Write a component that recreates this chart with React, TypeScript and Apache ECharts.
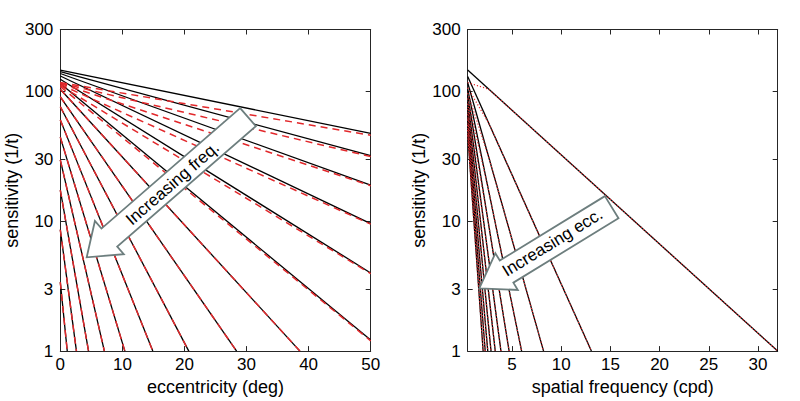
import React, { useEffect, useRef } from 'react';
import * as echarts from 'echarts';

// ---- tick labels ----
const sensTicks = [1, 3, 10, 30, 100, 300];
const eccTicks = [0, 10, 20, 30, 40, 50];
const freqTicks = [5, 10, 15, 20, 25, 30];

// ---- left panel: one line per spatial frequency (cpd) ----
const lineFreqs = [0.5, 0.66, 0.87, 1.15, 1.52, 2.0, 2.64, 3.48, 4.59, 6.06, 8.0, 10.56, 13.93, 18.38, 24.25];
// black (solid): sensitivity at 0 deg, and the point where the line leaves the plot
const blackStartSens = [146, 142, 137.5, 131.5, 124, 115, 104, 91, 76.3, 60.4, 44.5, 29.7, 17.4, 8.6, 3.4];
const blackEndEcc = [50, 50, 50, 50, 50, 50, 38.6, 28.4, 20.7, 14.9, 10.4, 7.1, 4.55, 2.6, 1.12];
const blackEndSens = [47.5, 32, 19, 9.6, 4.0, 1.22, 1, 1, 1, 1, 1, 1, 1, 1, 1];
// red (dashed)
const redStartSens = [117, 116, 115, 113, 111, 109, 104, 91, 76.3, 60.4, 44.5, 29.7, 17.4, 8.6, 3.4];
const redEndEcc = [50, 50, 50, 50, 50, 50, 38.6, 28.4, 20.7, 14.9, 10.4, 7.1, 4.55, 2.6, 1.12];
const redEndSens = [46, 31.5, 18.8, 9.5, 3.95, 1.2, 1, 1, 1, 1, 1, 1, 1, 1, 1];

// ---- right panel: one line per eccentricity (deg) ----
const lineEccs = [0, 5, 10, 15, 20, 25, 30, 35, 40, 45, 50];
const firstFreq = 0.5;
const blackStartSensF = [146, 130.5, 116.7, 104.3, 93.2, 83.3, 74.4, 66.5, 59.5, 53.1, 47.5];
const blackEndFreq = [32, 13.07, 8.21, 5.98, 4.71, 3.88, 3.3, 2.87, 2.54, 2.28, 2.07];
// red (dotted): start, knee near 2.64 cpd, end
const redStartSensF = [117, 106.6, 97.1, 88.4, 80.5, 73.4, 66.8, 60.9, 55.4, 50.5, 46];
const redKneeFreq = 2.64;
const redKneeSens = [104, 57.0, 31.2, 17.1, 9.38, 5.14, 2.81, 1.54, null, null, null];
const redEndFreq = [32, 13.07, 8.21, 5.98, 4.71, 3.88, 3.3, 2.87, 2.54, 2.28, 2.07];

const FONT = "'Liberation Sans', Arial, Helvetica, sans-serif";
const AXIS = '#262626';
const BLACK = '#000000';
const RED = '#e2282b';
const ARROW = '#6d7e7e';

function xAxes(gridIndex: number, min: number, max: number, name: string, ticks: number[], useInterval: boolean) {
  const common: any = {
    type: 'value',
    gridIndex,
    min,
    max,
    axisLine: { show: true, onZero: false, lineStyle: { color: AXIS, width: 1 } },
    splitLine: { show: false },
    minorTick: { show: false },
  };
  if (useInterval) common.interval = 10;
  const tick: any = { show: true, inside: true, length: 5, lineStyle: { color: AXIS, width: 1 } };
  if (!useInterval) tick.customValues = ticks;
  const label: any = { show: true, fontSize: 17, color: '#000', fontFamily: FONT, margin: 5 };
  if (!useInterval) label.customValues = ticks;
  return [
    {
      ...common,
      position: 'bottom',
      axisTick: tick,
      axisLabel: label,
      name,
      nameLocation: 'middle',
      nameGap: 24,
      nameTextStyle: { fontSize: 18, color: '#000', fontFamily: FONT },
    },
    {
      ...common,
      position: 'top',
      axisTick: tick,
      axisLabel: { show: false },
    },
  ];
}

function yAxes(gridIndex: number) {
  const common: any = {
    type: 'log',
    gridIndex,
    min: 1,
    max: 300,
    axisLine: { show: true, onZero: false, lineStyle: { color: AXIS, width: 1 } },
    splitLine: { show: false },
    minorTick: { show: false },
    axisTick: { show: true, inside: true, length: 5, customValues: sensTicks, lineStyle: { color: AXIS, width: 1 } },
  };
  return [
    {
      ...common,
      position: 'left',
      axisLabel: { show: true, customValues: sensTicks, fontSize: 17, color: '#000', fontFamily: FONT, margin: 7 },
      name: 'sensitivity (1/t)',
      nameLocation: 'middle',
      nameGap: 38,
      nameTextStyle: { fontSize: 18, color: '#000', fontFamily: FONT },
    },
    {
      ...common,
      position: 'right',
      axisLabel: { show: false },
    },
  ];
}

function lineSeries(data: number[][], xAxisIndex: number, yAxisIndex: number, color: string, width: number, type: any, z: number) {
  return {
    type: 'line',
    xAxisIndex,
    yAxisIndex,
    data,
    symbol: 'none',
    showSymbol: false,
    silent: true,
    clip: true,
    z,
    lineStyle: { color, width, type },
  };
}

function arrowPoints(tail: number[], tip: number[], hs: number, hh: number, hl: number) {
  const dx = tip[0] - tail[0];
  const dy = tip[1] - tail[1];
  const len = Math.sqrt(dx * dx + dy * dy);
  const ux = dx / len, uy = dy / len;
  const nx = -uy, ny = ux;
  const bx = tip[0] - ux * hl, by = tip[1] - uy * hl;
  return [
    [tail[0] + nx * hs, tail[1] + ny * hs],
    [bx + nx * hs, by + ny * hs],
    [bx + nx * hh, by + ny * hh],
    [tip[0], tip[1]],
    [bx - nx * hh, by - ny * hh],
    [bx - nx * hs, by - ny * hs],
    [tail[0] - nx * hs, tail[1] - ny * hs],
  ];
}

function buildOption() {
  const series: any[] = [];
  // left panel
  lineFreqs.forEach((_f, i) => {
    series.push(lineSeries([[0, blackStartSens[i]], [blackEndEcc[i], blackEndSens[i]]], 0, 0, BLACK, 1.3, 'solid', 2));
  });
  lineFreqs.forEach((_f, i) => {
    series.push(lineSeries([[0, redStartSens[i]], [redEndEcc[i], redEndSens[i]]], 0, 0, RED, 1.5, [7, 5], 3));
  });
  // right panel
  lineEccs.forEach((_e, i) => {
    series.push(lineSeries([[firstFreq, blackStartSensF[i]], [blackEndFreq[i], 1]], 2, 2, BLACK, 1.3, 'solid', 2));
  });
  lineEccs.forEach((_e, i) => {
    const pts: number[][] = [[firstFreq, redStartSensF[i]]];
    const k = redKneeSens[i];
    if (k !== null) pts.push([redKneeFreq, k]);
    pts.push([redEndFreq[i], 1]);
    series.push(lineSeries(pts, 2, 2, RED, 1.2, [1.2, 2], 3));
  });

  const leftArrow = arrowPoints([248, 117.2], [86.7, 257.3], 12, 22, 30);
  const rightArrow = arrowPoints([611.7, 207.2], [479.3, 288.3], 13, 21.5, 32);

  return {
    animation: false,
    backgroundColor: '#ffffff',
    grid: [
      { left: 60.3, top: 29.5, width: 310.4, height: 325.5, containLabel: false },
      { left: 467.7, top: 29.5, width: 310, height: 325.5, containLabel: false },
    ],
    xAxis: [
      ...xAxes(0, 0, 50, 'eccentricity (deg)', eccTicks, true),
      ...xAxes(1, 0.5, 32, 'spatial frequency (cpd)', freqTicks, false),
    ],
    yAxis: [...yAxes(0), ...yAxes(1)],
    series,
    graphic: [
      {
        type: 'polygon',
        z: 100,
        shape: { points: leftArrow },
        style: { fill: '#ffffff', stroke: ARROW, lineWidth: 1.8, lineJoin: 'miter' },
        silent: true,
      },
      {
        type: 'text',
        z: 101,
        x: 172.5,
        y: 183.5,
        rotation: 0.715,
        style: {
          text: 'Increasing freq.',
          fontSize: 17,
          fontFamily: FONT,
          fill: '#000',
          align: 'center',
          verticalAlign: 'middle',
        },
        silent: true,
      },
      {
        type: 'polygon',
        z: 100,
        shape: { points: rightArrow },
        style: { fill: '#ffffff', stroke: ARROW, lineWidth: 1.8, lineJoin: 'miter' },
        silent: true,
      },
      {
        type: 'text',
        z: 101,
        x: 552.5,
        y: 242.5,
        rotation: 0.55,
        style: {
          text: 'Increasing ecc.',
          fontSize: 17,
          fontFamily: FONT,
          fill: '#000',
          align: 'center',
          verticalAlign: 'middle',
        },
        silent: true,
      },
    ],
  };
}

export default function App() {
  const ref = useRef<HTMLDivElement>(null);
  useEffect(() => {
    document.body.style.margin = '0';
    const chart = echarts.init(ref.current as HTMLDivElement, null, { renderer: 'svg' });
    chart.setOption(buildOption() as any);
    return () => {
      chart.dispose();
    };
  }, []);
  return <div ref={ref} style={{ position: 'absolute', left: 0, top: 0, width: 800, height: 401 }} />;
}
